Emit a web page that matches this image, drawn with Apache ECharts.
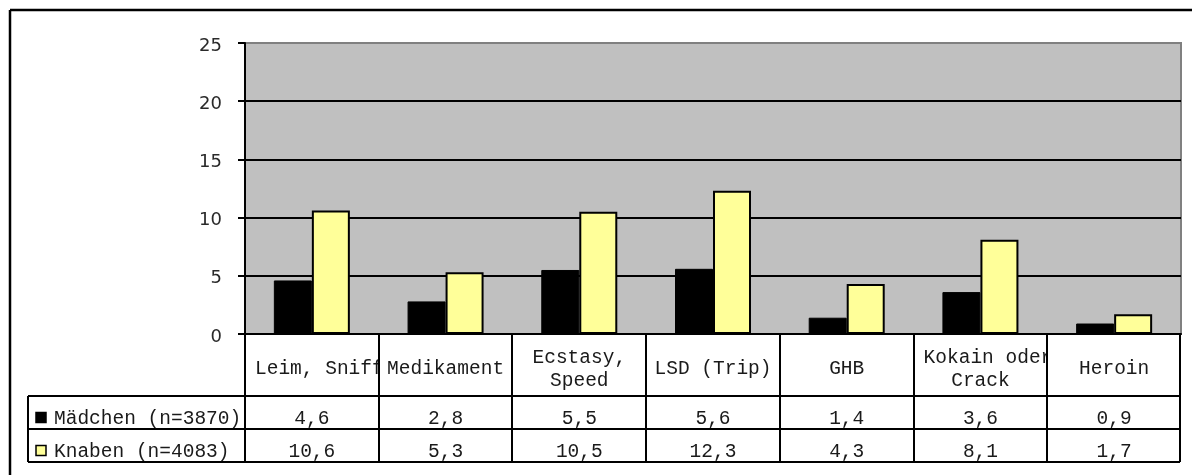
<!DOCTYPE html>
<html>
<head>
<meta charset="utf-8">
<script src="https://cdn.jsdelivr.net/npm/echarts@6/dist/echarts.min.js"></script>
<style>
html,body{margin:0;padding:0;background:#fff;overflow:hidden;}
#c{width:1192px;height:475px;}
</style>
</head>
<body>
<div id="c"></div>
<script>
const categories = ['Leim, Sniffstoffe', 'Medikament', 'Ecstasy,\nSpeed', 'LSD (Trip)', 'GHB', 'Kokain oder\nCrack', 'Heroin'];
const seriesNames = ['Mädchen (n=3870)', 'Knaben (n=4083)'];
const maedchen = [4.6, 2.8, 5.5, 5.6, 1.4, 3.6, 0.9];
const knaben = [10.6, 5.3, 10.5, 12.3, 4.3, 8.1, 1.7];
const yTicks = [0, 5, 10, 15, 20, 25];

const colors = ['#000000', '#ffff99'];
const G = {left: 245, top: 43, width: 936, height: 291};
const tableLeft = 28;
const rowY = [334, 396, 429, 462];
const mono = '"Liberation Mono", "Courier New", monospace';
const sans = '"DejaVu Sans", Verdana, sans-serif';
const fs = 19.5;
const textColor = '#1a1a1a';

const chart = echarts.init(document.getElementById('c'), null, {renderer: 'canvas'});

const colW = G.width / categories.length;
const right = G.left + G.width - 1;
const graphic = [];
const line = (x1, y1, x2, y2, w, z) => graphic.push({
  type: 'line', z: z || 104, silent: true,
  shape: {x1, y1, x2, y2},
  style: {stroke: '#000', lineWidth: w || 2}
});
// outer chart border (right and bottom edges lie outside the picture)
line(10, 10, 1200, 10, 2.5, 1);
line(10, 10, 10, 480, 2.5, 1);
// table lines
line(tableLeft, rowY[1], right, rowY[1]);
line(tableLeft, rowY[2], right, rowY[2]);
line(tableLeft, rowY[3], right, rowY[3]);
line(tableLeft, rowY[1], tableLeft, rowY[3]);
for (let i = 0; i <= categories.length; i++) {
  const x = i === categories.length ? right : Math.round(G.left + i * colW);
  line(x, rowY[0], x, rowY[3]);
}
const font = fs + 'px ' + mono;
const measure = s => echarts.format.getTextRect ? echarts.format.getTextRect(s, font).width : s.length * fs * 0.6;
const fmt = v => v.toFixed(1).replace('.', ',');
const rows = [maedchen, knaben];
const headMid = (rowY[0] + rowY[1]) / 2 + 4;
const lh = 23;
categories.forEach((c, i) => {
  const x0 = G.left + i * colW;
  const cx = x0 + colW / 2;
  const lines = c.split('\n');
  lines.forEach((ln, j) => {
    const y = headMid + (j - (lines.length - 1) / 2) * lh;
    const w = measure(ln);
    if (w > colW - 6) {
      // text wider than its cell: starts at the cell's left padding and is cut at the cell border
      graphic.push({type: 'text', z: 101, silent: true, style: {
        text: ln, x: x0 + 10, y: y, font: font, fill: textColor, align: 'left', verticalAlign: 'middle'}});
      graphic.push({type: 'rect', z: 102, silent: true,
        shape: {x: x0 + colW, y: y - 12, width: w, height: 24}, style: {fill: '#fff'}});
    } else {
      graphic.push({type: 'text', z: 103, silent: true, style: {
        text: ln, x: cx, y: y, font: font, fill: textColor, align: 'center', verticalAlign: 'middle'}});
    }
  });
  rows.forEach((r, k) => {
    graphic.push({type: 'text', z: 103, silent: true, style: {
      text: fmt(r[i]), x: cx, y: (rowY[k + 1] + rowY[k + 2]) / 2 + 6, font: font, fill: textColor,
      align: 'center', verticalAlign: 'middle'
    }});
  });
});
seriesNames.forEach((n, k) => {
  const yc = (rowY[k + 1] + rowY[k + 2]) / 2 + 6;
  graphic.push({type: 'rect', z: 103, silent: true, shape: {x: 36, y: yc - 6, width: 10, height: 10},
    style: {fill: colors[k], stroke: '#000', lineWidth: 1.5}});
  graphic.push({type: 'text', z: 103, silent: true, style: {
    text: n, x: 54, y: yc, font: font, fill: textColor, align: 'left', verticalAlign: 'middle'
  }});
});

chart.setOption({
  animation: false,
  grid: {left: G.left, top: G.top, width: G.width, height: G.height, show: true,
    backgroundColor: '#c0c0c0', borderColor: '#808080', borderWidth: 2},
  xAxis: {
    type: 'category', data: categories, boundaryGap: true,
    axisLine: {lineStyle: {color: '#000', width: 2}},
    axisTick: {show: false}, axisLabel: {show: false}, splitLine: {show: false}
  },
  yAxis: {
    type: 'value', min: yTicks[0], max: yTicks[yTicks.length - 1], interval: 5,
    axisLine: {show: true, lineStyle: {color: '#000', width: 2}},
    axisTick: {show: true, inside: false, length: 7, lineStyle: {color: '#000', width: 2}},
    splitLine: {show: true, showMaxLine: false, lineStyle: {color: '#000', width: 2}},
    axisLabel: {show: false}
  },
  series: [
    {name: seriesNames[0], type: 'bar', data: maedchen, barWidth: 38, barGap: '0%',
      itemStyle: {color: colors[0], borderColor: '#000', borderWidth: 1}},
    {name: seriesNames[1], type: 'bar', data: knaben, barWidth: 38, barGap: '0%',
      itemStyle: {color: colors[1], borderColor: '#000', borderWidth: 2}}
  ],
  graphic: graphic
});

// y-axis tick labels, placed through the axis scale
yTicks.forEach(v => {
  const y = chart.convertToPixel({yAxisIndex: 0}, v);
  graphic.push({type: 'text', z: 103, silent: true, style: {
    text: String(v), x: 222, y: y + 3, font: '18px ' + sans, fill: '#2a2a2a',
    align: 'right', verticalAlign: 'middle'
  }});
});
chart.setOption({graphic: graphic});
</script>
</body>
</html>
